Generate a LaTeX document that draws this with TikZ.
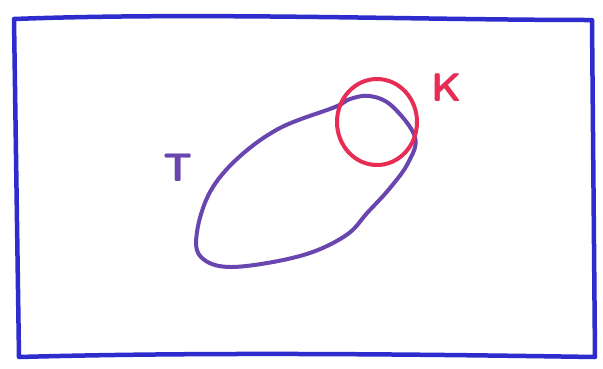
\documentclass[tikz,border=0pt]{standalone}
\usetikzlibrary{shapes.geometric}
\definecolor{frameblue}{RGB}{45,45,205}
\definecolor{tpurple}{RGB}{105,70,175}
\definecolor{kred}{RGB}{232,45,85}
\begin{document}
\begin{tikzpicture}[x=1pt,y=-1pt,
  frame/.style={draw=frameblue,line width=4.5pt,line join=round},
  curveT/.style={draw=tpurple,line width=4pt},
  circK/.style={draw=kred,line width=4pt},
  lbl/.style={font=\fontsize{40}{40}\selectfont\sffamily\bfseries,inner sep=0pt}]
\useasboundingbox (0,0) rectangle (603,368);
\fill[white] (0,0) rectangle (603,368);
% frame
\draw[frame] (14,19) .. controls (200,12) and (420,20) .. (592,20) -- (595,357)
  .. controls (400,354) and (200,352) .. (19,357) -- cycle;
% T region
\draw[curveT] plot[smooth cycle,tension=0.6] coordinates {
 (197,232) (210,192) (238,158) (280,128) (335,107) (350,99) (370,96) (392,106)
 (415,137) (408,163) (390,188) (368,212) (345,236) (300,256) (232,267) (201,257)};
% K circle
\draw[circK] (377,122) ellipse [x radius=40pt, y radius=43pt];
% labels
\node[lbl,text=tpurple] (labT) at (178,168) {T};
\node[lbl,text=kred] (labK) at (447,88) {K};
\end{tikzpicture}
\end{document}
